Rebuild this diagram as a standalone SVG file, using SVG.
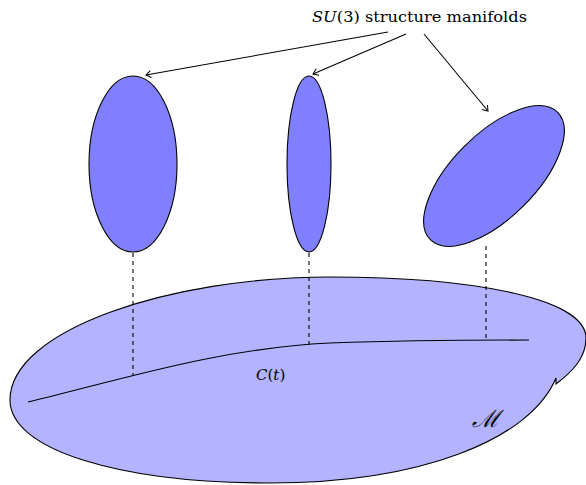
<svg xmlns="http://www.w3.org/2000/svg" width="586" height="485" viewBox="0 0 586 485">
<style>
.fib{fill:#8080ff;stroke:#000;stroke-width:1.1}
.base{fill:#b3b3ff;stroke:#000;stroke-width:1.1}
.dash{stroke:#000;stroke-width:1.1;stroke-dasharray:4 4;fill:none}
.arr{stroke:#000;stroke-width:1.1;fill:none;marker-end:url(#ah)}
text{font-family:'DejaVu Serif','Liberation Serif',serif;font-size:15px;fill:#000}
text.big{font-size:24px;font-style:italic}
</style>
<defs>
<marker id="ah" viewBox="-6 -5 8 10" refX="0" refY="0" markerWidth="8" markerHeight="10" markerUnits="userSpaceOnUse" orient="auto">
<path d="M -5,-3.5 Q -1.5,-1 0,0 Q -1.5,1 -5,3.5" fill="none" stroke="#000" stroke-width="1"/>
</marker>
</defs>
<g id="base-manifold">
<path class="base" d="M 10,400 C 10,330 170,277 330,277 C 480,277 586,300 586,338 C 586,358 572,372 556,384 L 556,378 C 530,440 420,483 270,483 C 120,483 10,450 10,400 Z"/>
</g>
<g id="fiber-left"><ellipse class="fib" cx="133" cy="164" rx="44" ry="88"/></g>
<g id="fiber-middle"><ellipse class="fib" cx="309" cy="164" rx="22" ry="88"/></g>
<g id="fiber-right"><ellipse class="fib" cx="0" cy="0" rx="90" ry="42" transform="translate(494,176) rotate(-45)"/></g>
<g id="connectors">
<line class="dash" x1="133" y1="253" x2="133" y2="375"/>
<line class="dash" x1="309" y1="253" x2="309" y2="345"/>
<line class="dash" x1="486" y1="246" x2="486" y2="340"/>
<path d="M 28,402 C 120,380 220,348 330,343 C 420,340 480,340 529,340" fill="none" stroke="#000" stroke-width="1.2"/>
<line class="arr" x1="388" y1="32" x2="146" y2="75"/>
<line class="arr" x1="406" y1="34" x2="313" y2="74"/>
<line class="arr" x1="424" y1="34" x2="488" y2="111"/>
</g>
<g id="labels">
<text x="312" y="22" textLength="215" lengthAdjust="spacingAndGlyphs"><tspan font-style="italic">SU</tspan>(3) structure manifolds</text>
<text x="256" y="380"><tspan font-style="italic">C</tspan>(<tspan font-style="italic">t</tspan>)</text>
<text class="big" x="472" y="427">ℳ</text>
</g>
</svg>
